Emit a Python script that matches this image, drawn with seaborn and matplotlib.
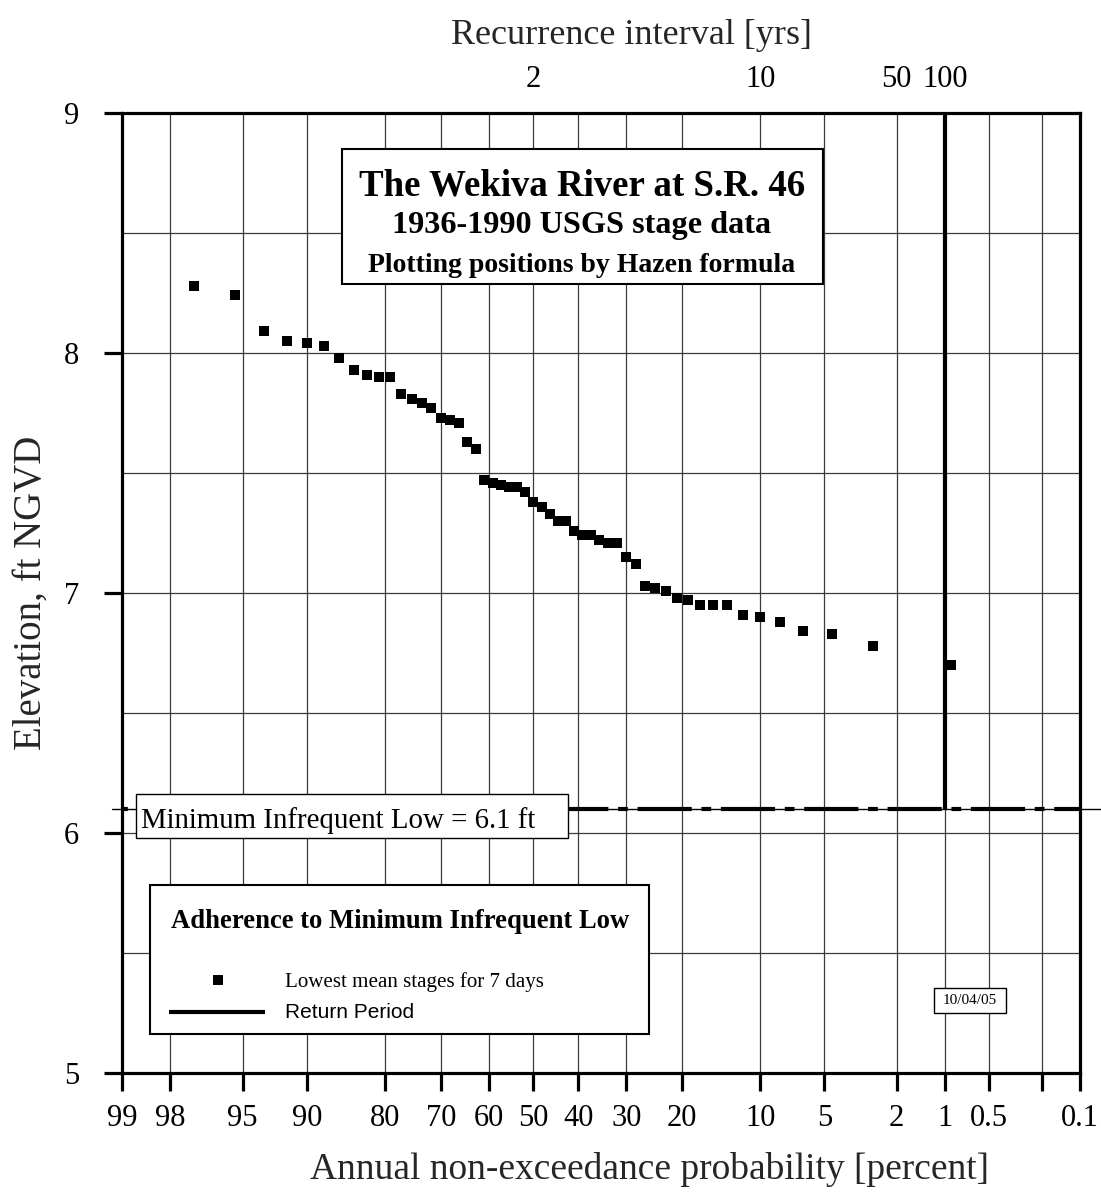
import numpy as np
import pandas as pd
import matplotlib
matplotlib.use("Agg")
import matplotlib.pyplot as plt
import seaborn as sns
from statistics import NormalDist
from matplotlib.patches import Rectangle
from matplotlib.lines import Line2D

# ---------------- data ----------------
nonexceed_pct = [97.27, 95.45, 93.64, 91.82, 90.00, 88.18, 86.36, 84.55, 82.73, 80.91,
                 79.09, 77.27, 75.45, 73.64, 71.82, 70.00, 68.18, 66.36, 64.55, 62.73,
                 60.91, 59.09, 57.27, 55.45, 53.64, 51.82, 50.00, 48.18, 46.36, 44.55,
                 42.73, 40.91, 39.09, 37.27, 35.45, 33.64, 31.82, 30.00, 28.18, 26.36,
                 24.55, 22.73, 20.91, 19.09, 17.27, 15.45, 13.64, 11.82, 10.00, 8.18,
                 6.36, 4.55, 2.73, 0.91]
elevation_ft = [8.28, 8.24, 8.09, 8.05, 8.04, 8.03, 7.98, 7.93, 7.91, 7.90,
                7.90, 7.83, 7.81, 7.79, 7.77, 7.73, 7.72, 7.71, 7.63, 7.60,
                7.47, 7.46, 7.45, 7.44, 7.44, 7.42, 7.38, 7.36, 7.33, 7.30,
                7.30, 7.26, 7.24, 7.24, 7.22, 7.21, 7.21, 7.15, 7.12, 7.03,
                7.02, 7.01, 6.98, 6.97, 6.95, 6.95, 6.95, 6.91, 6.90, 6.88,
                6.84, 6.83, 6.78, 6.70]

prob_ticks = [99, 98, 95, 90, 80, 70, 60, 50, 40, 30, 20, 10, 5, 2, 1, 0.5, 0.2, 0.1]
prob_labels = ["99", "98", "95", "90", "80", "70", "60", "50", "40", "30", "20",
               "10", "5", "2", "1", "0.5", "", "0.1"]
recur_ticks = [50, 10, 2, 1]
recur_labels = ["2", "10", "50", "100"]
elev_ticks = [5, 6, 7, 8, 9]
elev_minor = [5.5, 6.5, 7.5, 8.5]
min_infrequent_low = 6.1
return_period_pct = 1

df = pd.DataFrame({"pct": nonexceed_pct, "elev": elevation_ft})

# ---------------- normal probability scale ----------------
_nd = NormalDist()
_ppf = np.vectorize(_nd.inv_cdf, otypes=[float])
_cdf = np.vectorize(_nd.cdf, otypes=[float])


def fwd(p):
    p = np.clip(np.asarray(p, dtype=float), 1e-7, 100 - 1e-7)
    return _ppf(p / 100.0)


def inv(z):
    return _cdf(np.asarray(z, dtype=float)) * 100.0


# ---------------- style ----------------
sns.set_theme(style="white")
plt.rcParams["font.family"] = ["Liberation Serif", "DejaVu Serif"]
plt.rcParams["lines.scale_dashes"] = False
plt.rcParams["axes.edgecolor"] = "black"
plt.rcParams["text.color"] = "black"
plt.rcParams["xtick.color"] = "black"
plt.rcParams["ytick.color"] = "black"

W, H = 1101, 1193
fig = plt.figure(figsize=(W / 100, H / 100), dpi=100)
fig.patch.set_facecolor("white")


def fx(px):
    return px / W


def fy(py):
    return 1 - py / H


ax = fig.add_axes([fx(122), fy(1073), fx(1080) - fx(122), fy(113) - fy(1073)])
ax.set_xscale("function", functions=(fwd, inv))

sns.scatterplot(data=df, x="pct", y="elev", marker="s", s=52, color="black",
                linewidth=0, ax=ax, legend=False, zorder=5)

ax.set_xlim(99, 0.1)
ax.set_ylim(5, 9)

# ticks and grid
ax.set_xticks(prob_ticks)
ax.set_xticklabels(prob_labels)
ax.xaxis.set_minor_locator(matplotlib.ticker.NullLocator())
ax.set_yticks(elev_ticks)
ax.set_yticks(elev_minor, minor=True)
ax.tick_params(axis="x", which="major", direction="out", length=13, width=2.3,
               labelsize=22, pad=9, top=True, bottom=True, labeltop=False)
ax.tick_params(axis="y", which="major", direction="out", length=13, width=2.3,
               labelsize=22, pad=18, left=True, right=False)
ax.tick_params(axis="y", which="minor", length=0)
ax.grid(True, which="both", axis="both", color="#3a3a3a", lw=0.9)
ax.set_axisbelow(True)
for sp in ax.spines.values():
    sp.set_linewidth(2.3)
    sp.set_color("black")
    sp.set_zorder(6)

ax.set_xlabel("Annual non-exceedance probability [percent]", fontsize=27)
ax.xaxis.set_label_coords(0.551, -0.082)
ax.set_ylabel("Elevation, ft NGVD", fontsize=28)
ax.yaxis.set_label_coords(-0.076, 0.5)

# top axis: recurrence interval
ax2 = ax.twiny()
ax2.set_xscale("function", functions=(fwd, inv))
ax2.set_xlim(99, 0.1)
ax2.set_xticks(recur_ticks)
ax2.set_xticklabels(recur_labels)
ax2.xaxis.set_minor_locator(matplotlib.ticker.NullLocator())
ax2.tick_params(axis="x", length=0, labelsize=22, pad=14)
for sp in ax2.spines.values():
    sp.set_visible(False)
ax2.grid(False)
ax2.set_xlabel("Recurrence interval [yrs]", fontsize=26)
ax2.xaxis.set_label_coords(0.532, 1.072)

# minimum infrequent low line
ax.axhline(min_infrequent_low, color="black", lw=3,
           linestyle=(48.8, (39, 7, 7, 7)), dash_capstyle="butt", zorder=4)
ax.plot([-0.0105, 1.022], [min_infrequent_low, min_infrequent_low],
        transform=ax.get_yaxis_transform(), color="black", lw=1, clip_on=False, zorder=3)

# return period line
ax.plot([return_period_pct, return_period_pct], [min_infrequent_low, 9],
        color="black", lw=3, solid_capstyle="butt", clip_on=False, zorder=7)


# ---------------- boxes and annotations ----------------
def box(x0, y0, x1, y1, lw=1.5):
    r = Rectangle((fx(x0), fy(y1)), fx(x1) - fx(x0), fy(y0) - fy(y1),
                  transform=fig.transFigure, facecolor="white", edgecolor="black",
                  lw=lw, zorder=2)
    fig.add_artist(r)


# title box
box(342, 149, 823, 284)
fig.text(fx(582), fy(195), "The Wekiva River at S.R. 46", ha="center", va="baseline",
         fontsize=26.6, fontweight="bold", zorder=3)
fig.text(fx(582), fy(233), "1936-1990 USGS stage data", ha="center", va="baseline",
         fontsize=23.2, fontweight="bold", zorder=3)
fig.text(fx(582), fy(272), "Plotting positions by Hazen formula", ha="center", va="baseline",
         fontsize=20, fontweight="bold", zorder=3)

# minimum infrequent low label
box(136, 794, 568, 838, lw=1)
fig.text(fx(141), fy(828), "Minimum Infrequent Low = 6.1 ft", ha="left", va="baseline",
         fontsize=20.8, zorder=3)

# legend
box(150, 885, 649, 1034)
fig.text(fx(400), fy(928), "Adherence to Minimum Infrequent Low", ha="center",
         va="baseline", fontsize=19.2, fontweight="bold", zorder=3)
fig.add_artist(Line2D([fx(218)], [fy(980)], marker="s", markersize=7.2, color="black",
                      markeredgewidth=0, linestyle="none", transform=fig.transFigure,
                      zorder=3))
fig.text(fx(285), fy(987), "Lowest mean stages for 7 days", ha="left", va="baseline",
         fontsize=15.1, zorder=3)
fig.add_artist(Line2D([fx(169), fx(265)], [fy(1012), fy(1012)], lw=3, color="black",
                      solid_capstyle="butt", transform=fig.transFigure, zorder=3))
fig.text(fx(285), fy(1018), "Return Period", ha="left", va="baseline", fontsize=15,
         family=["Liberation Sans", "DejaVu Sans"], zorder=3)

# date stamp
box(934, 988, 1006, 1013, lw=1)
fig.text(fx(970), fy(1001), "10/04/05", ha="center", va="center", fontsize=11, zorder=3)

fig.savefig("out.png", dpi=100, facecolor="white")
